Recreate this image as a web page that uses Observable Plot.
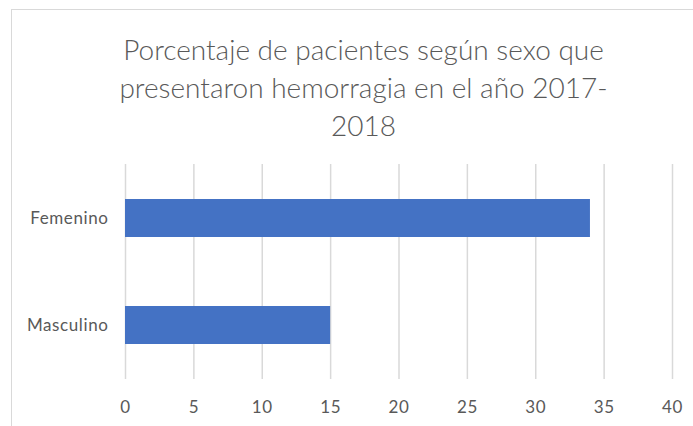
<!DOCTYPE html>
<html>
<head>
<meta charset="utf-8">
<script src="https://cdn.jsdelivr.net/npm/d3@7"></script>
<script src="https://cdn.jsdelivr.net/npm/@observablehq/plot@0.6"></script>
<style>
  html, body { margin: 0; padding: 0; background: #fff; }
  #wrap { position: relative; width: 693px; height: 426px; overflow: hidden; font-family: "Lato", "Open Sans", sans-serif; }
  #frame { position: absolute; left: 11px; top: 9px; width: 720px; height: 440px; border: 1.5px solid #d9d9d9; box-sizing: border-box; }
  #title { position: absolute; left: 0; top: 30px; width: 727px; text-align: center; color: #595959; font-size: 28px; font-weight: 300; line-height: 38px; }
  #chart { position: absolute; left: 0; top: 150px; }
</style>
</head>
<body>
<div id="wrap">
  <div id="frame"></div>
  <div id="title">Porcentaje de pacientes según sexo que<br>presentaron hemorragia en el año 2017-<br>2018</div>
  <div id="chart"></div>
</div>
<script>
const categories = ["Femenino", "Masculino"];
const values = [34, 15];
const xTicks = [0, 5, 10, 15, 20, 25, 30, 35, 40];

const data = categories.map((c, i) => ({sexo: c, valor: values[i]}));

const chart = Plot.plot({
  width: 693,
  height: 276,
  marginLeft: 125,
  marginRight: 21,
  marginTop: 14,
  marginBottom: 47,
  style: {fontFamily: "Lato, 'Open Sans', sans-serif", fontSize: "17px", letterSpacing: "0.6px", color: "#595959", background: "transparent"},
  x: {domain: [0, 40], ticks: xTicks, tickSize: 0, tickPadding: 21, label: null, grid: false},
  y: {domain: categories, paddingInner: 0.647, paddingOuter: 0.326, tickSize: 0, tickPadding: 17, label: null},
  marks: [
    Plot.ruleX(xTicks, {stroke: "#d9d9d9", strokeWidth: 1.5, strokeOpacity: 1}),
    Plot.barX(data, {x: "valor", y: "sexo", fill: "#4472C4"})
  ]
});
document.getElementById("chart").appendChild(chart);
</script>
</body>
</html>
